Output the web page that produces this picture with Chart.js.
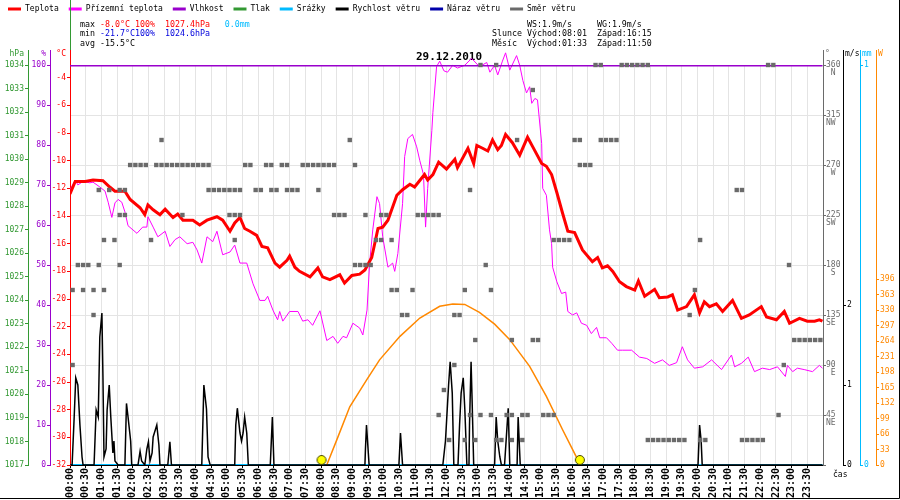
<!DOCTYPE html>
<html lang="cs">
<head>
<meta charset="utf-8">
<title>Meteo 29.12.2010</title>
<script src="https://cdn.jsdelivr.net/npm/chart.js@4.4.1/dist/chart.umd.min.js"></script>
<style>
  html, body { margin: 0; padding: 0; background: #ffffff; }
  canvas { display: block; }
</style>
</head>
<body>
<canvas id="grafDen" width="900" height="500"></canvas>
<script>
// popisky casove osy (po 30 min)
const casoveStitky = ['00:00','00:30','01:00','01:30','02:00','02:30','03:00','03:30','04:00','04:30',
  '05:00','05:30','06:00','06:30','07:00','07:30','08:00','08:30','09:00','09:30','10:00','10:30',
  '11:00','11:30','12:00','12:30','13:00','13:30','14:00','14:30','15:00','15:30','16:00','16:30',
  '17:00','17:30','18:00','18:30','19:00','19:30','20:00','20:30','21:00','21:30','22:00','22:30',
  '23:00','23:30'];

// popisky svislych os
const tlakTiky = [1017,1018,1019,1020,1021,1022,1023,1024,1025,1026,1027,1028,1029,1030,1031,1032,1033,1034];
const vlhkostTiky = [0,10,20,30,40,50,60,70,80,90,100];
const teplotaTiky = [-32,-30,-28,-26,-24,-22,-20,-18,-16,-14,-12,-10,-8,-6,-4];
const smerTiky = [0,45,90,135,180,225,270,315,360];
const smerNazvy = ['','NE','E','SE','S','SW','W','NW','N'];
const vitrTiky = [0,1,2];
const srazkyTiky = [0,1];
const slunceTiky = [0,33,66,99,132,165,198,231,264,297,330,363,396];

// teplota vzduchu (minuty od pulnoci, °C)
const teplotaCas = [0,10,29,44,63,76,86,105,115,134,143,149,159,172,182,197,206,216,235,248,
  262,281,292,306,315,325,334,344,357,367,378,392,401,415,420,430,439,459,474,483,
  497,516,525,539,554,564,577,589,598,608,625,636,650,659,678,684,694,705,720,736,
  741,761,772,778,789,799,808,818,825,833,846,860,875,885,902,911,921,931,942,952,
  965,980,999,1009,1018,1028,1038,1051,1064,1080,1087,1099,1118,1127,1143,1152,1162,1179,1194,1204,
  1213,1223,1236,1248,1267,1284,1299,1322,1332,1351,1366,1376,1395,1410,1424,1433,1439];
const teplota = [-12.4,-11.5,-11.5,-11.4,-11.45,-11.9,-12.2,-12.2,-12.8,-13.4,-13.9,-13.2,-13.55,-13.9,-13.5,-14.1,-13.85,-14.3,-14.3,-14.65,
  -14.3,-14.05,-14.3,-15.1,-14.5,-14.1,-14.9,-15.1,-15.4,-16.2,-16.3,-17.4,-17.7,-17.2,-16.9,-17.7,-18.0,-18.4,-17.75,-18.4,
  -18.6,-18.25,-18.85,-18.3,-18.2,-17.9,-17.0,-14.9,-14.8,-14.3,-12.5,-12.1,-11.7,-11.9,-11.0,-11.4,-11.0,-10.1,-10.6,-9.9,
  -10.5,-9.1,-10.2,-8.9,-9.1,-9.3,-8.5,-9.2,-8.9,-8.1,-8.7,-9.6,-8.3,-9.0,-10.2,-10.4,-11.0,-12.3,-13.8,-15.1,
  -15.2,-16.45,-17.3,-17.0,-17.75,-17.6,-18.0,-18.75,-19.1,-19.35,-18.7,-19.8,-19.3,-19.9,-19.85,-19.7,-20.8,-20.55,-19.7,-21.0,
  -20.2,-20.55,-20.35,-20.9,-20.1,-21.4,-21.15,-20.55,-21.3,-21.5,-20.9,-21.75,-21.4,-21.6,-21.6,-21.5,-21.6];

// prizemni teplota
const prizemniCas = [0,10,15,25,38,44,57,67,73,80,86,92,99,105,111,128,139,147,149,159,
  168,182,191,201,210,224,235,243,252,262,273,281,292,306,315,325,338,350,363,373,
  378,388,397,401,407,420,436,445,455,464,478,491,503,512,522,529,541,554,560,568,
  573,579,587,592,598,608,617,621,627,636,640,646,655,663,669,676,680,684,692,694,
  701,707,715,722,732,741,755,768,783,797,803,812,818,827,833,841,854,860,866,873,
  879,883,889,894,902,904,911,917,921,923,931,940,948,952,961,969,978,988,997,1007,
  1013,1026,1036,1047,1057,1074,1089,1103,1118,1133,1146,1160,1171,1181,1194,1210,1227,1246,1265,1271,
  1284,1297,1309,1324,1338,1353,1368,1372,1382,1391,1404,1420,1433,1439];
const prizemni = [-12.1,-11.4,-11.75,-11.5,-11.6,-11.55,-11.9,-12.2,-13.0,-14.1,-13.05,-12.8,-13.0,-13.7,-14.7,-15.25,-14.8,-14.8,-14.05,-14.8,
  -15.5,-15.1,-16.2,-15.7,-15.5,-16.0,-15.9,-16.45,-17.4,-15.5,-15.85,-15.1,-16.8,-16.6,-16.1,-17.4,-17.4,-18.9,-20.1,-20.1,
  -19.8,-20.8,-21.5,-20.9,-21.6,-20.9,-20.9,-21.6,-21.5,-21.9,-20.85,-23.0,-22.7,-23.2,-22.7,-22.8,-21.75,-22.1,-22.6,-20.8,
  -17.4,-15.0,-12.6,-13.1,-15.5,-17.7,-17.4,-18.0,-16.7,-13.1,-9.7,-8.4,-8.1,-9.0,-10.0,-11.0,-14.8,-12.0,-7.8,-6.5,
  -3.2,-2.8,-3.5,-3.6,-3.1,-3.3,-3.1,-2.6,-3.2,-2.9,-3.6,-3.1,-3.8,-2.8,-2.2,-3.45,-2.4,-3.1,-4.2,-5.1,
  -4.65,-5.85,-5.5,-5.6,-8.75,-12.0,-12.5,-15.0,-16.0,-17.7,-18.75,-19.6,-19.5,-20.9,-21.15,-21.0,-21.75,-21.9,-22.5,-22.05,
  -22.8,-22.8,-23.2,-23.7,-23.7,-23.7,-24.2,-24.3,-24.65,-24.4,-24.8,-24.6,-23.45,-24.4,-25.0,-24.9,-24.4,-25.1,-24.05,-24.9,
  -24.65,-24.2,-25.25,-25.0,-25.1,-24.9,-25.6,-24.8,-25.25,-25.0,-25.1,-25.25,-24.8,-25.0];

// vlhkost a srazky
const vlhkostCas = [0,1439];
const vlhkost = [100,100];
const srazkyCas = [0,1439];
const srazky = [0,0];

// rychlost vetru (m/s)
const vitrCas = [0,4,8,11,15,19,23,25,46,50,54,57,61,63,65,69,71,75,78,82,
  84,86,92,105,108,111,116,118,130,134,137,143,147,150,153,157,159,166,170,172,
  187,191,194,252,256,261,264,268,315,317,320,325,328,331,334,338,341,383,385,387,
  390,564,565,567,572,629,632,636,713,718,724,727,731,734,742,745,748,752,755,759,
  763,764,767,769,772,812,815,818,822,825,831,838,841,855,857,861,1201,1204,1207,1209,1439];
const vitr = [0,0,0.6,1.09,1.0,0.5,0.1,0,0,0.69,0.6,1.6,1.9,1.1,0.1,0.2,0.69,1.0,0.6,0.15,
  0.3,0.05,0,0,0.77,0.6,0.3,0,0,0.17,0.05,0,0.2,0.29,0.05,0.15,0.35,0.5,0.25,0,
  0,0.29,0,0,1.0,0.7,0.1,0,0,0.5,0.71,0.4,0.3,0.4,0.6,0.4,0,0,0.3,0.6,
  0,0,0.2,0.5,0,0,0.4,0,0,0.3,1.0,1.29,0.9,0,0,0.5,0.9,1.09,0.7,0,
  0,0.5,1.29,0.8,0,0,0.6,0.3,0.1,0,0,0.71,0,0,0.6,0,0,0.5,0.3,0,0];

// smer vetru (stupne), vzorky po 10 min
const smerCas = [5,5,15,25,25,35,45,45,55,55,65,65,75,85,95,95,95,105,105,115,
  125,135,145,155,165,175,175,185,195,205,215,215,225,235,245,255,265,265,275,285,
  295,305,305,315,315,315,325,325,335,345,355,365,375,385,385,395,405,415,415,425,
  435,445,455,465,475,475,485,495,505,505,515,525,535,545,545,555,565,565,575,585,
  595,595,605,615,615,625,635,645,655,665,675,685,695,705,705,715,725,735,735,745,
  755,755,765,765,775,775,785,785,795,805,805,815,815,825,835,845,845,845,855,865,
  865,875,885,885,895,905,915,925,925,935,945,955,965,975,975,985,995,1005,1015,1015,
  1025,1035,1045,1055,1065,1075,1085,1095,1105,1105,1115,1125,1135,1145,1155,1165,1175,1185,1195,1205,
  1205,1215,1275,1285,1285,1295,1305,1315,1325,1335,1345,1355,1365,1375,1385,1395,1405,1415,1425,1435];
const smerStupne = [157.5,90,180,180,157.5,180,157.5,135,247.5,180,202.5,157.5,247.5,202.5,247.5,225,180,247.5,225,270,
  270,270,270,202.5,270,270,292.5,270,270,270,270,225,270,270,270,270,270,247.5,247.5,247.5,
  247.5,247.5,225,247.5,225,202.5,247.5,225,270,270,247.5,247.5,270,270,247.5,247.5,270,270,247.5,247.5,
  247.5,270,270,270,270,247.5,270,270,270,225,225,225,292.5,270,180,180,180,225,180,202.5,
  202.5,225,225,202.5,157.5,157.5,135,135,157.5,225,225,225,225,225,45,67.5,22.5,135,90,135,
  157.5,22.5,247.5,45,112.5,22.5,360,45,180,157.5,45,360,22.5,22.5,45,112.5,45,22.5,292.5,45,
  22.5,45,337.5,112.5,112.5,45,45,45,202.5,202.5,202.5,202.5,292.5,292.5,270,270,270,360,360,292.5,
  292.5,292.5,292.5,360,360,360,360,360,360,22.5,22.5,22.5,22.5,22.5,22.5,22.5,22.5,135,157.5,202.5,
  22.5,22.5,247.5,247.5,22.5,22.5,22.5,22.5,22.5,360,360,45,90,180,112.5,112.5,112.5,112.5,112.5,112.5];

// slunecni zareni (W/m2)
const slunceCas = [491,510,535,567,592,631,669,707,732,755,783,812,841,879,911,942,968,973];
const slunceW = [0,53,124,181,224,274,313,338,343,342,325,300,267,210,146,75,18,0];
// vychod a zapad slunce (08:01, 16:15)
const slunceMezniky = [481,975];
const slunceMeznikyW = [0,0];

const CERVENA = '#ff0000', FIALOVA = '#ff00ff', VLHKOST = '#9900cc', ZELENA = '#339933';
const AZUROVA = '#00bbff', CERNA = '#000000', MODRA = '#0000aa', SEDA = '#6a6a6a', ORANZOVA = '#ff8800';
const MONO = 'DejaVu Sans Mono';

function naMinuty(hhmm) {
  const [h, m] = hhmm.split(':');
  return Number(h) * 60 + Number(m);
}
function body(casy, hodnoty) {
  return casy.map((c, i) => ({ x: c, y: hodnoty[i] }));
}
function sirka(w) { return s => { s.width = w; }; }
function tiky(hodnoty) { return s => { s.ticks = hodnoty.map(v => ({ value: v })); }; }

// zluta znacka slunce (kolecko lehce nad osou)
const slunicko = document.createElement('canvas');
slunicko.width = 12; slunicko.height = 22;
const sc = slunicko.getContext('2d');
sc.beginPath(); sc.arc(6, 6, 4.5, 0, Math.PI * 2);
sc.fillStyle = '#ffff00'; sc.fill();
sc.strokeStyle = '#444400'; sc.lineWidth = 1; sc.stroke();

function osaY(pozice, vaha, barva, min, max, hodnoty, w, extra) {
  return Object.assign({
    type: 'linear', position: pozice, weight: vaha, min: min, max: max,
    afterBuildTicks: tiky(hodnoty), afterFit: sirka(w),
    ticks: { color: barva, font: { family: MONO, size: 8 }, padding: 1, autoSkip: false, callback: v => String(v) },
    grid: { drawOnChartArea: false, color: barva, tickLength: 3 },
    border: { color: barva }
  }, extra || {});
}

const statistika = [
  [['max ', CERNA], ['-8.0°C 100%', CERVENA], ['  ', CERNA], ['1027.4hPa', CERVENA], ['   ', CERNA], ['0.0mm', AZUROVA]],
  [['min ', CERNA], ['-21.7°C100%', '#0000dd'], ['  ', CERNA], ['1024.6hPa', '#0000dd']],
  [['avg -15.5°C', CERNA]]
];
const astro = ['       WS:1.9m/s     WG:1.9m/s', 'Slunce Východ:08:01  Západ:16:15', 'Měsíc  Východ:01:33  Západ:11:50'];
const osyBarvy = [['yTlak', ZELENA, 'hPa'], ['yVlhkost', VLHKOST, '%'], ['yTeplota', CERVENA, '°C'],
  ['ySmer', SEDA, '°'], ['yVitr', CERNA, 'm/s'], ['ySrazky', AZUROVA, 'mm'], ['ySlunce', ORANZOVA, 'W']];

const doplnky = {
  id: 'doplnky',
  afterDraw(chart) {
    const { ctx, chartArea: a, scales } = chart;
    ctx.save();
    ctx.lineWidth = 1;
    ctx.strokeStyle = ZELENA;
    ctx.beginPath(); ctx.moveTo(a.left + 0.5, 0); ctx.lineTo(a.left + 0.5, a.top - 15); ctx.stroke();
    ctx.font = '8px "' + MONO + '"';
    ctx.textBaseline = 'middle';
    osyBarvy.forEach(([id, barva, jednotka]) => {
      const s = scales[id];
      const vlevo = s.position === 'left';
      const x = Math.round(vlevo ? s.right : s.left) + 0.5;
      ctx.strokeStyle = barva;
      ctx.beginPath(); ctx.moveTo(x, a.top - 15); ctx.lineTo(x, a.top); ctx.stroke();
      ctx.fillStyle = barva;
      ctx.textAlign = vlevo ? 'right' : 'left';
      ctx.fillText(jednotka, vlevo ? s.right - 4 : s.left + 2, a.top - 11);
    });
    ctx.fillStyle = CERNA;
    ctx.textAlign = 'left';
    ctx.fillText('čas', a.right + 10, a.bottom + 10);
    ctx.font = '8.3px "' + MONO + '"';
    statistika.forEach((radek, r) => {
      let x = a.left + 10;
      radek.forEach(([t, c]) => {
        ctx.fillStyle = c;
        ctx.fillText(t, x, a.top - 40.5 + r * 9.75);
        x += ctx.measureText(t).width;
      });
    });
    ctx.fillStyle = CERNA;
    astro.forEach((t, r) => ctx.fillText(t, a.left + 422, a.top - 40.5 + r * 9.75));
    ctx.strokeStyle = CERNA;
    ctx.beginPath();
    ctx.moveTo(899.5, 0); ctx.lineTo(899.5, 498.5); ctx.lineTo(0, 498.5);
    ctx.stroke();
    ctx.restore();
  }
};

Chart.defaults.font.family = MONO;

new Chart(document.getElementById('grafDen'), {
  type: 'line',
  data: {
    datasets: [
      { label: 'Teplota', data: body(teplotaCas, teplota), yAxisID: 'yTeplota',
        borderColor: CERVENA, backgroundColor: CERVENA, borderWidth: 3, pointRadius: 0, order: 1 },
      { label: 'Přízemní teplota', data: body(prizemniCas, prizemni), yAxisID: 'yTeplota',
        borderColor: FIALOVA, backgroundColor: FIALOVA, borderWidth: 1, pointRadius: 0, order: 5,
        clip: { left: 0, top: 15, right: 0, bottom: 0 } },
      { label: 'Vlhkost', data: body(vlhkostCas, vlhkost), yAxisID: 'yVlhkost',
        borderColor: VLHKOST, backgroundColor: VLHKOST, borderWidth: 3, pointRadius: 0, order: 2 },
      { label: 'Tlak', data: [], yAxisID: 'yTlak', borderColor: ZELENA, backgroundColor: ZELENA },
      { label: 'Srážky', data: body(srazkyCas, srazky), yAxisID: 'ySrazky',
        borderColor: AZUROVA, backgroundColor: AZUROVA, borderWidth: 2, pointRadius: 0, order: 6 },
      { label: 'Rychlost větru', data: body(vitrCas, vitr), yAxisID: 'yVitr',
        borderColor: CERNA, backgroundColor: CERNA, borderWidth: 1.5, pointRadius: 0, order: 3 },
      { label: 'Náraz větru', data: [], yAxisID: 'yVitr', borderColor: MODRA, backgroundColor: MODRA },
      { label: 'Směr větru', type: 'scatter', data: body(smerCas, smerStupne), yAxisID: 'ySmer',
        pointStyle: 'rect', pointRadius: 3.1, borderWidth: 0, backgroundColor: SEDA, borderColor: SEDA,
        order: 0, clip: false },
      { label: 'Sluneční záření', data: body(slunceCas, slunceW), yAxisID: 'ySlunce',
        borderColor: ORANZOVA, backgroundColor: ORANZOVA, borderWidth: 1.5, pointRadius: 0, order: 4, vLegende: false },
      { label: 'Východ a západ slunce', type: 'scatter', data: body(slunceMezniky, slunceMeznikyW), yAxisID: 'ySlunce',
        pointStyle: slunicko, pointRadius: 6, order: -1, clip: false, vLegende: false }
    ]
  },
  options: {
    responsive: false,
    animation: false,
    events: [],
    layout: { padding: { top: -5, left: -2, right: 0, bottom: 0 } },
    elements: { line: { tension: 0 } },
    plugins: {
      tooltip: { enabled: false },
      legend: {
        position: 'top', align: 'start',
        labels: {
          boxWidth: 13, boxHeight: 3, padding: 10, color: CERNA, font: { family: MONO, size: 8 },
          filter: (item, data) => data.datasets[item.datasetIndex].vLegende !== false,
          sort: (a, b) => a.datasetIndex - b.datasetIndex,
          generateLabels: chart => Chart.defaults.plugins.legend.labels.generateLabels(chart)
            .map(l => Object.assign(l, { lineWidth: 0, fillStyle: l.strokeStyle }))
        }
      },
      title: {
        display: true, text: '29.12.2010', weight: 500, color: CERNA,
        padding: { top: 27.4, bottom: 1.4 },
        font: { family: MONO, size: 11, weight: 'bold' }
      }
    },
    scales: {
      x: {
        type: 'linear', position: 'bottom', min: 0, max: 1440,
        afterBuildTicks: s => { s.ticks = casoveStitky.map(t => ({ value: naMinuty(t) })); },
        afterFit: s => { s.height = 35; },
        ticks: { autoSkip: false, minRotation: 90, maxRotation: 90, padding: 0, color: CERNA,
          font: { family: MONO, size: 10, weight: 'bold' }, callback: (v, i) => casoveStitky[i] },
        grid: { color: '#e4e4e4', tickLength: 3, tickColor: CERNA },
        border: { color: CERNA }
      },
      yTeplota: osaY('left', 0, CERVENA, -32, -3.08, teplotaTiky, 20),
      yVlhkost: osaY('left', 1, VLHKOST, 0, 100, vlhkostTiky, 22),
      yTlak: osaY('left', 2, ZELENA, 1017, 1034, tlakTiky, 30),
      ySmer: osaY('right', 0, SEDA, 0, 360, smerTiky, 20, {
        ticks: { color: SEDA, font: { family: MONO, size: 8, lineHeight: 1.05 }, padding: 0, autoSkip: false,
          labelOffset: 4.2,
          callback: v => v === 0 ? '' : [String(v), smerNazvy[smerTiky.indexOf(v)].padStart(2, ' ')] },
        grid: { drawOnChartArea: true, color: '#e4e4e4', tickColor: SEDA, tickLength: 3 }
      }),
      yVitr: osaY('right', 1, CERNA, 0, 5, vitrTiky, 17),
      ySrazky: osaY('right', 2, AZUROVA, 0, 1, srazkyTiky, 16),
      ySlunce: osaY('right', 3, ORANZOVA, 0, 852, slunceTiky, 24)
    }
  },
  plugins: [doplnky]
});
</script>
</body>
</html>
